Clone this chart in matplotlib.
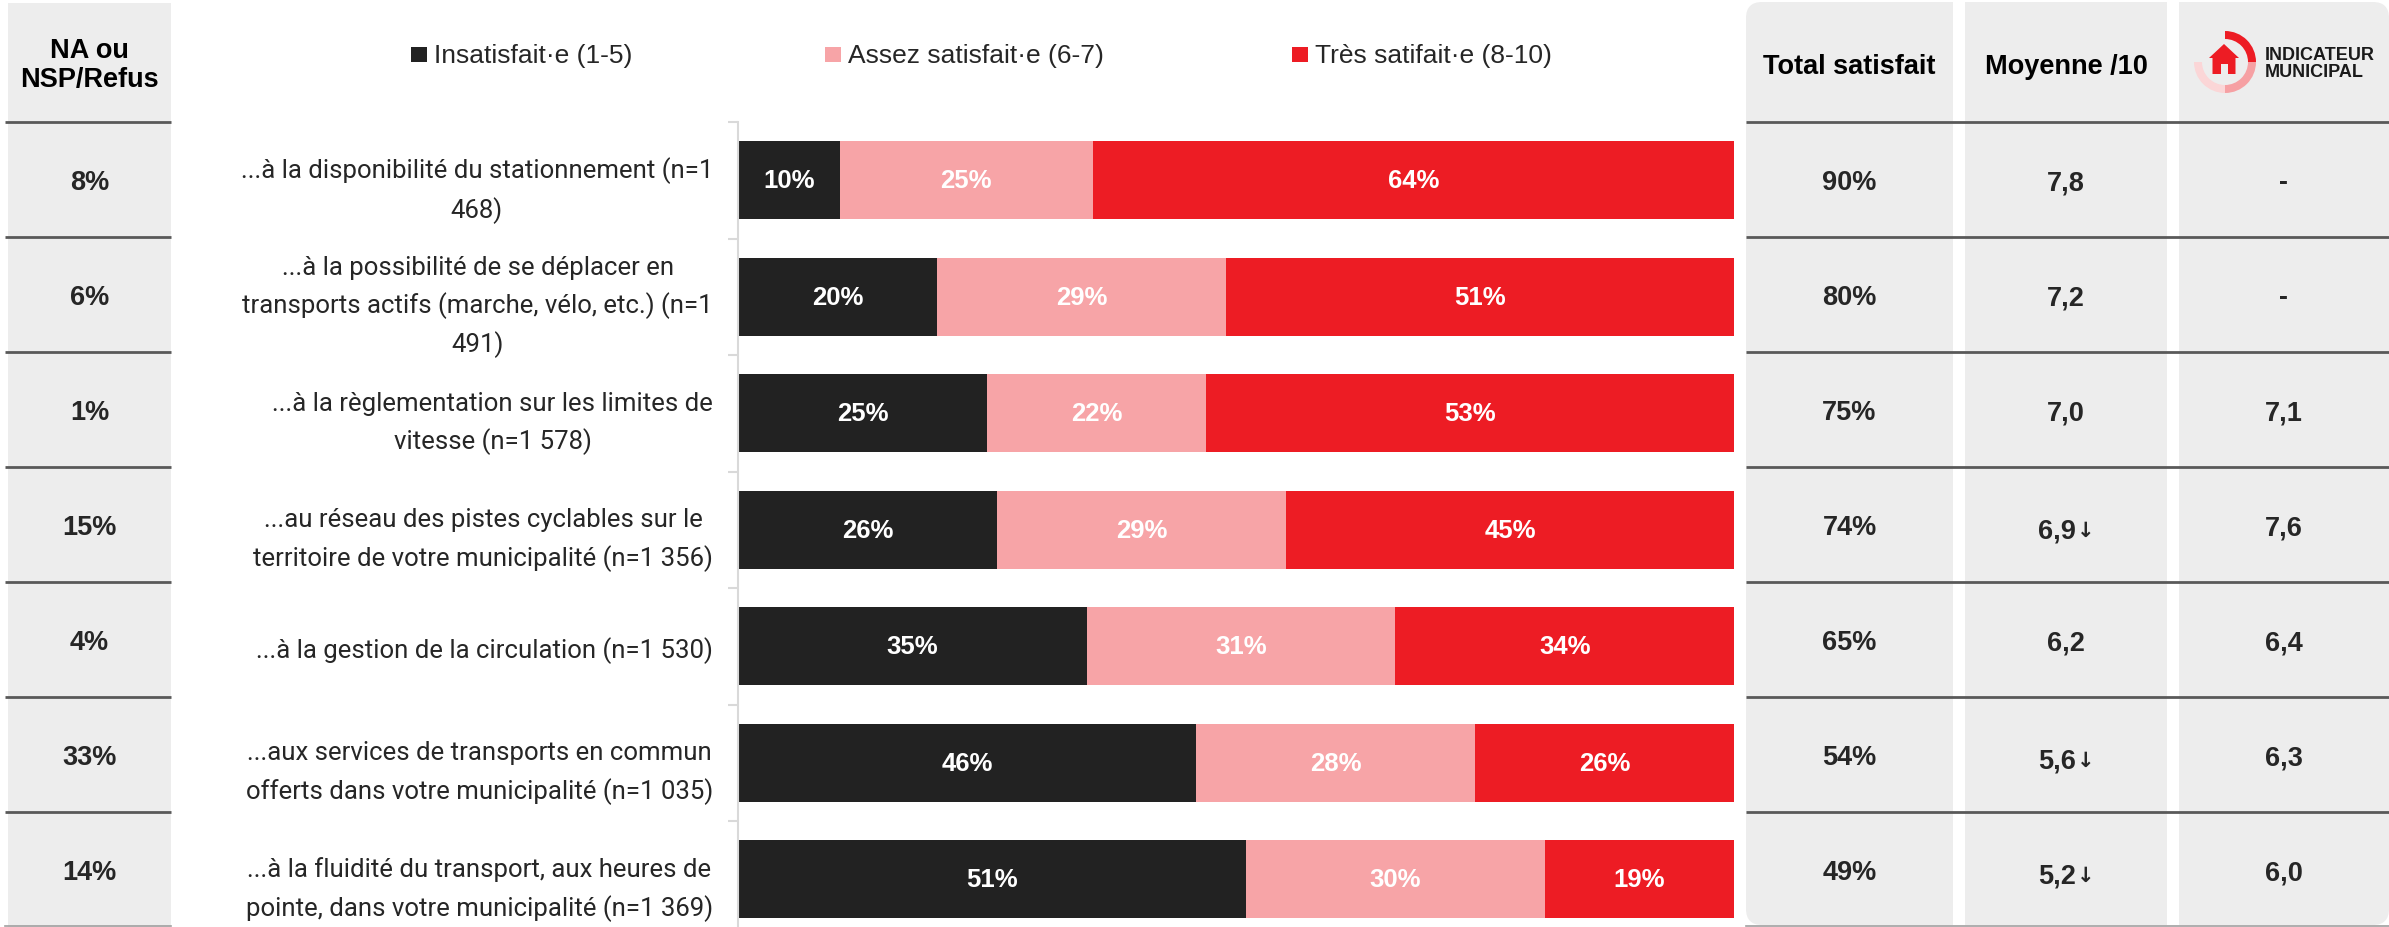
import matplotlib
matplotlib.use("Agg")
import matplotlib.pyplot as plt
from matplotlib.patches import Rectangle, FancyBboxPatch, Wedge, Polygon
import numpy as np

# ---------------- data ----------------
categories = [
    "...à la disponibilité du stationnement (n=1\n468)",
    "...à la possibilité de se déplacer en\ntransports actifs (marche, vélo, etc.) (n=1\n491)",
    "...à la règlementation sur les limites de\nvitesse (n=1 578)",
    "...au réseau des pistes cyclables sur le\nterritoire de votre municipalité (n=1 356)",
    "...à la gestion de la circulation (n=1 530)",
    "...aux services de transports en commun\nofferts dans votre municipalité (n=1 035)",
    "...à la fluidité du transport, aux heures de\npointe, dans votre municipalité (n=1 369)",
]
series_names = ["Insatisfait·e (1-5)", "Assez satisfait·e (6-7)", "Très satifait·e (8-10)"]
insatisfait = [10.2, 20, 25, 26, 35, 46, 51]
assez = [25.4, 29, 22, 29, 31, 28, 30]
tres = [64.4, 51, 53, 45, 34, 26, 19]
na_refus = ["8%", "6%", "1%", "15%", "4%", "33%", "14%"]
total_satisfait = ["90%", "80%", "75%", "74%", "65%", "54%", "49%"]
moyenne = ["7,8", "7,2", "7,0", "6,9", "6,2", "5,6", "5,2"]
moyenne_down = [False, False, False, True, False, True, True]
indicateur = ["-", "-", "7,1", "7,6", "6,4", "6,3", "6,0"]
col_headers = ["Total satisfait", "Moyenne /10"]
left_header = "NA ou\nNSP/Refus"
logo_text = "INDICATEUR\nMUNICIPAL"

# ---------------- styles ----------------
C_BLACK = "#222222"
C_PINK = "#F7A4A7"
C_RED = "#ED1C24"
C_GRAY = "#EDEDED"
C_LINE = "#595959"
C_TEXT = "#262626"
FONT = ["Liberation Sans", "DejaVu Sans"]
LABFONT = ["Roboto", "DejaVu Sans"]

W, H = 2389, 928
fig = plt.figure(figsize=(W / 100, H / 100), dpi=100)
fig.patch.set_facecolor("white")

# background axes in pixel coordinates (y downward)
bg = fig.add_axes([0, 0, 1, 1])
bg.set_xlim(0, W)
bg.set_ylim(H, 0)
bg.axis("off")

row_top = 123
row_h = 115
n = len(categories)
VOFF = 3

# left column
bg.add_patch(Rectangle((8, 4), 163, H - 4, facecolor=C_GRAY, edgecolor="none", zorder=0))
bg.text(89.5, 66, left_header, ha="center", va="center", fontsize=19.5, fontweight="bold",
        family=FONT, color="black", linespacing=1.15)
for i, v in enumerate(na_refus):
    bg.text(89.5, row_top + row_h * (i + 0.5) + VOFF, v, ha="center", va="center", fontsize=19.5,
            fontweight="bold", family=FONT, color=C_TEXT)

# right table columns
cols = [(1746, 1953), (1965, 2167), (2179, 2389)]
y0t, y1t = 3, 926
r = 16
x0, x1 = cols[0]
bg.add_patch(FancyBboxPatch((x0 + r, y0t + r), x1 - x0 - 2 * r, y1t - y0t - 2 * r,
                            boxstyle=f"round,pad={r}", facecolor=C_GRAY, edgecolor="none", zorder=0))
bg.add_patch(Rectangle((x0 + 40, y0t), x1 - x0 - 40, y1t - y0t, facecolor=C_GRAY, edgecolor="none", zorder=0))
x0, x1 = cols[1]
bg.add_patch(Rectangle((x0, y0t), x1 - x0, y1t - y0t, facecolor=C_GRAY, edgecolor="none", zorder=0))
x0, x1 = cols[2]
bg.add_patch(FancyBboxPatch((x0 + r, y0t + r), x1 - x0 - 2 * r, y1t - y0t - 2 * r,
                            boxstyle=f"round,pad={r}", facecolor=C_GRAY, edgecolor="none", zorder=0))
bg.add_patch(Rectangle((x0, y0t), x1 - x0 - 40, y1t - y0t, facecolor=C_GRAY, edgecolor="none", zorder=0))

# separator lines
for k in range(n):
    y = row_top + row_h * k
    bg.plot([5, 171], [y, y], color=C_LINE, lw=2.0, solid_capstyle="butt", zorder=2)
    bg.plot([1746, 2389], [y, y], color=C_LINE, lw=2.0, solid_capstyle="butt", zorder=2)
bg.plot([5, 171], [927, 927], color="#A0A0A0", lw=1.2, zorder=2)
bg.plot([1746, 2389], [927, 927], color="#A0A0A0", lw=1.2, zorder=2)

# headers
for (xa, xb), h in zip(cols[:2], col_headers):
    bg.text((xa + xb) / 2, 67, h, ha="center", va="center", fontsize=19.5, fontweight="bold",
            family=FONT, color="black")

# logo
cx, cy = 2225, 63
bg.add_patch(Wedge((cx, cy), 31, -90, 0, width=8, facecolor=C_RED, edgecolor="none", zorder=3))
bg.add_patch(Wedge((cx, cy), 31, 0, 90, width=8, facecolor="#F6A0A3", edgecolor="none", zorder=3))
bg.add_patch(Wedge((cx, cy), 31, 90, 180, width=8, facecolor="#FBD6D7", edgecolor="none", zorder=3))
house = [(2224, 45), (2239, 59), (2235.5, 59), (2235.5, 75), (2212.5, 75), (2212.5, 59), (2209, 59)]
bg.add_patch(Polygon(house, closed=True, facecolor=C_RED, edgecolor="none", zorder=4))
bg.add_patch(Rectangle((2221, 65), 7, 10, facecolor=C_GRAY, edgecolor="none", zorder=5))
bg.text(2265, 64, logo_text, ha="left", va="center", fontsize=13, fontweight="bold",
        family=FONT, color="#1a1a1a", linespacing=1.05)

# table values
for i in range(n):
    yc = row_top + row_h * (i + 0.5) + VOFF
    c0 = sum(cols[0]) / 2
    c1 = sum(cols[1]) / 2
    c2 = sum(cols[2]) / 2
    bg.text(c0, yc, total_satisfait[i], ha="center", va="center", fontsize=19.5,
            fontweight="bold", family=FONT, color=C_TEXT)
    if moyenne_down[i]:
        bg.text(c1 + 10, yc + 10, moyenne[i], ha="right", va="baseline", fontsize=19.5,
                fontweight="bold", family=FONT, color=C_TEXT)
        bg.text(c1 + 11, yc + 8, "↓", ha="left", va="baseline", fontsize=15,
                fontweight="bold", family=["DejaVu Sans"], color=C_TEXT)
    else:
        bg.text(c1, yc, moyenne[i], ha="center", va="center", fontsize=19.5,
                fontweight="bold", family=FONT, color=C_TEXT)
    bg.text(c2, yc, indicateur[i], ha="center", va="center", fontsize=19.5,
            fontweight="bold", family=FONT, color=C_TEXT)

# legend
leg_x = [411, 825, 1292]
for xs, name, col in zip(leg_x, series_names, [C_BLACK, C_PINK, C_RED]):
    bg.add_patch(Rectangle((xs, 48), 16, 15, facecolor=col, edgecolor="none"))
    bg.text(xs + 23, 56, name, ha="left", va="center", fontsize=19, family=FONT, color=C_TEXT)

# ---------------- bar axes ----------------
ax_left, ax_right = 738, 1734
ax_top, ax_bot = 123, 938.5
ax = fig.add_axes([ax_left / W, (H - ax_bot) / H, (ax_right - ax_left) / W, (ax_bot - ax_top) / H])
ax.set_facecolor("none")
y = np.arange(n)
bh = 0.67
b1 = ax.barh(y, insatisfait, height=bh, color=C_BLACK, edgecolor="none")
b2 = ax.barh(y, assez, left=insatisfait, height=bh, color=C_PINK, edgecolor="none")
left3 = np.array(insatisfait) + np.array(assez)
b3 = ax.barh(y, tres, left=left3, height=bh, color=C_RED, edgecolor="none")
for bars in (b1, b2, b3):
    ax.bar_label(bars, fmt="{:.0f}%", label_type="center", color="white", fontsize=18.5,
                 fontweight="bold", family=FONT)
ax.set_xlim(0, 100)
ax.set_ylim(n - 0.5, -0.5)
for s in ("top", "right", "bottom"):
    ax.spines[s].set_visible(False)
ax.spines["left"].set_color("#D9D9D9")
ax.spines["left"].set_linewidth(1.5)
ax.set_xticks([])
ax.set_yticks(y)
ax.set_yticklabels(categories, fontsize=18.5, family=LABFONT, color=C_TEXT)
for lab in ax.get_yticklabels():
    lab.set_multialignment("center")
    lab.set_linespacing(1.6)
ax.tick_params(axis="y", which="major", length=0, pad=18)
ax.set_yticks(np.arange(-0.5, n, 1.0), minor=True)
ax.tick_params(axis="y", which="minor", length=7, width=1.5, color="#D9D9D9")

fig.savefig("out.png", dpi=100, facecolor="white")
